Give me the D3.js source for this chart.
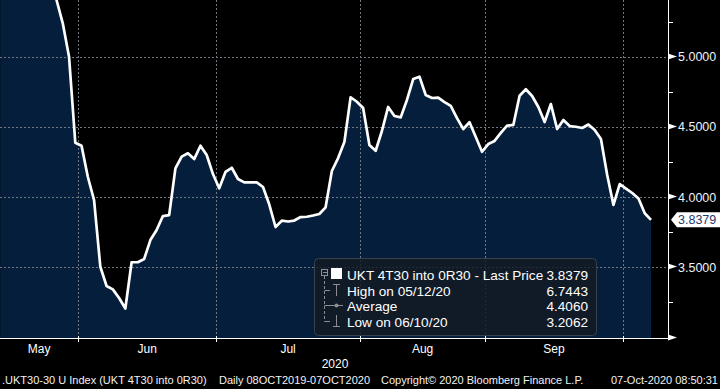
<!DOCTYPE html>
<html>
<head>
<meta charset="utf-8">
<script src="https://cdn.jsdelivr.net/npm/d3@7"></script>
<style>
  html, body { margin: 0; padding: 0; background: #000; }
  svg { display: block; font-family: "Liberation Sans", Arial, sans-serif; }
</style>
</head>
<body>
<div id="chart"></div>
<script>
// UKT 4T30 into 0R30 – daily values, one per UK trading day from 12 May 2020 to 07 Oct 2020
// (first points are above the visible range and get clipped)
const values = [
  6.7443, 6.62, 6.49, 6.36, 6.21, 6.04, 5.87, 5.70, 5.55,
  5.404, 5.238, 5.000, 4.387, 4.366, 4.145, 3.979, 3.504, 3.367, 3.343, 3.281,
  3.2062, 3.536, 3.536, 3.559, 3.694, 3.766, 3.865, 3.872, 4.205, 4.288,
  4.312, 4.271, 4.366, 4.300, 4.164, 4.063, 4.179, 4.209, 4.129, 4.105,
  4.105, 4.105, 4.072, 3.947, 3.787, 3.832, 3.826, 3.833, 3.858, 3.860,
  3.869, 3.880, 3.927, 4.186, 4.278, 4.392, 4.711, 4.679, 4.635, 4.371,
  4.330, 4.471, 4.642, 4.578, 4.568, 4.692, 4.841, 4.858, 4.727, 4.706,
  4.708, 4.677, 4.649, 4.563, 4.485, 4.533, 4.428, 4.323, 4.378, 4.400,
  4.457, 4.509, 4.514, 4.722, 4.768, 4.720, 4.642, 4.535, 4.663, 4.485,
  4.549, 4.506, 4.501, 4.492, 4.517, 4.478, 4.414, 4.157, 3.944, 4.093,
  4.061, 4.029, 3.990, 3.885, 3.8379
];

// month axis: label + index of the month's first trading day in `values`
const monthLabels = ["May", "Jun", "Jul", "Aug", "Sep", ""];
const monthFirstIdx = [0, 13, 35, 58, 78, 100];
const yearLabel = "2020";

const yMajor = [3.0, 3.5, 4.0, 4.5, 5.0];
const yMinor = [3.25, 3.75, 4.25, 4.75, 5.25];

const legendRows = [
  ["UKT 4T30 into 0R30 - Last Price", "3.8379"],
  ["High on 05/12/20", "6.7443"],
  ["Average", "4.4060"],
  ["Low on 06/10/20", "3.2062"]
];
const lastPrice = 3.8379;

const footer = [
  [2, ".UKT30-30 U Index (UKT 4T30 into 0R30)"],
  [219, "Daily 08OCT2019-07OCT2020"],
  [381, "Copyright\u00A9 2020 Bloomberg Finance L.P."],
  [718, "07-Oct-2020 08:50:31"]
];

// ---------- layout ----------
const W = 720, H = 389;
const plotR = 668, plotB = 338;

const svg = d3.select("#chart").append("svg")
  .attr("width", W).attr("height", H);

svg.append("rect").attr("width", W).attr("height", H).attr("fill", "#000");

const x = d3.scaleLinear().domain([0, 104]).range([0.2, 651.0]);
const y = d3.scaleLinear().domain([3, 5]).range([337.5, 56.7]);

svg.append("clipPath").attr("id", "plotClip")
  .append("rect").attr("x", 0).attr("y", 0).attr("width", plotR).attr("height", plotB);

const plot = svg.append("g").attr("clip-path", "url(#plotClip)");

// area under the line
plot.append("path")
  .datum(values)
  .attr("fill", "#041e3b")
  .attr("d", d3.area().x((d, i) => x(i)).y0(plotB).y1(d => y(d)));

// grid
const gridColor = "#6f7780";
plot.selectAll("line.hgrid")
  .data(yMajor.filter(v => v > 3))
  .join("line")
  .attr("class", "hgrid")
  .attr("x1", 0).attr("x2", plotR)
  .attr("y1", d => Math.round(y(d)) + 0.5).attr("y2", d => Math.round(y(d)) + 0.5)
  .attr("stroke", gridColor).attr("stroke-dasharray", "2,2");

const bounds = monthFirstIdx.slice(1).map(i => x(i - 0.5));
plot.selectAll("line.vgrid")
  .data(bounds)
  .join("line")
  .attr("class", "vgrid")
  .attr("x1", d => Math.round(d) + 0.5).attr("x2", d => Math.round(d) + 0.5)
  .attr("y1", 0).attr("y2", plotB)
  .attr("stroke", gridColor).attr("stroke-dasharray", "2,2");

// line
plot.append("path")
  .datum(values)
  .attr("fill", "none")
  .attr("stroke", "#fff")
  .attr("stroke-width", 2.7)
  .attr("stroke-linejoin", "round")
  .attr("d", d3.line().x((d, i) => x(i)).y(d => y(d)));

// ---------- legend ----------
const lg = svg.append("g");
lg.append("rect")
  .attr("x", 314.5).attr("y", 258.5).attr("width", 282).attr("height", 77)
  .attr("rx", 4)
  .attr("fill", "#151b23").attr("fill-opacity", 0.82)
  .attr("stroke", "#39424c");

const rowBase = [280, 296, 311, 327];
const iconCol = "#8b8f94";

// tree
lg.append("rect").attr("x", 321.5).attr("y", 269.5).attr("width", 6).attr("height", 6)
  .attr("fill", "none").attr("stroke", iconCol);
lg.append("line").attr("x1", 323).attr("x2", 327).attr("y1", 272.5).attr("y2", 272.5).attr("stroke", iconCol);
lg.append("line").attr("x1", 324.5).attr("x2", 324.5).attr("y1", 276).attr("y2", 321.5)
  .attr("stroke", iconCol).attr("stroke-dasharray", "3,2");
lg.selectAll("line.stub").data(rowBase.slice(1)).join("line")
  .attr("class", "stub")
  .attr("x1", 324.5).attr("x2", 330).attr("y1", d => d - 5.5).attr("y2", d => d - 5.5)
  .attr("stroke", iconCol);

lg.append("rect").attr("x", 331).attr("y", 268).attr("width", 11).attr("height", 11).attr("fill", "#fff");
// high icon
lg.append("path").attr("d", "M333,284.5H340M336.5,284.5V296").attr("stroke", iconCol).attr("fill", "none");
// average icon
lg.append("line").attr("x1", 330).attr("x2", 343).attr("y1", 305.5).attr("y2", 305.5).attr("stroke", iconCol);
lg.append("circle").attr("cx", 336.5).attr("cy", 305.5).attr("r", 2).attr("fill", iconCol);
// low icon
lg.append("path").attr("d", "M336.5,315V326.5M333,326.5H340").attr("stroke", iconCol).attr("fill", "none");

lg.selectAll("text.lname").data(legendRows).join("text")
  .attr("class", "lname")
  .attr("x", 347).attr("y", (d, i) => rowBase[i])
  .attr("fill", "#fff").attr("font-size", 13.6)
  .text(d => d[0]);
lg.selectAll("text.lval").data(legendRows).join("text")
  .attr("class", "lval")
  .attr("x", 588).attr("y", (d, i) => rowBase[i])
  .attr("text-anchor", "end")
  .attr("fill", "#fff").attr("font-size", 13.6)
  .text(d => d[1]);

// ---------- axes ----------
// bottom axis line
svg.append("line").attr("x1", 0).attr("x2", plotR + 0.5).attr("y1", plotB + 0.5).attr("y2", plotB + 0.5)
  .attr("stroke", "#fff");
svg.selectAll("line.xtick").data(bounds).join("line")
  .attr("class", "xtick")
  .attr("x1", d => Math.round(d) + 0.5).attr("x2", d => Math.round(d) + 0.5)
  .attr("y1", plotB - 2).attr("y2", plotB + 4)
  .attr("stroke", "#fff");

const edges = [0, ...bounds];
svg.selectAll("text.month").data(monthLabels.slice(0, 5)).join("text")
  .attr("class", "month")
  .attr("x", (d, i) => (edges[i] + edges[i + 1]) / 2)
  .attr("y", 353)
  .attr("text-anchor", "middle")
  .attr("fill", "#fff").attr("font-size", 12)
  .text(d => d);

svg.append("text")
  .attr("x", plotR / 2 + 1).attr("y", 368)
  .attr("text-anchor", "middle")
  .attr("fill", "#fff").attr("font-size", 12)
  .text(yearLabel);

// right axis
svg.append("line").attr("x1", plotR + 0.5).attr("x2", plotR + 0.5).attr("y1", 0).attr("y2", plotB + 1)
  .attr("stroke", "#fff");

svg.selectAll("line.minor").data(yMinor).join("line")
  .attr("class", "minor")
  .attr("x1", plotR).attr("x2", plotR + 5)
  .attr("y1", d => Math.round(y(d)) + 0.5).attr("y2", d => Math.round(y(d)) + 0.5)
  .attr("stroke", "#fff");

svg.selectAll("path.major").data(yMajor).join("path")
  .attr("class", "major")
  .attr("d", d => {
    const yy = Math.round(y(d)) - 0.5;
    return `M${plotR},${yy - 3}L${plotR + 9},${yy}L${plotR},${yy + 3}Z`;
  })
  .attr("fill", "#fff");

svg.selectAll("text.ylab").data(yMajor.filter(v => v > 3)).join("text")
  .attr("class", "ylab")
  .attr("x", 678).attr("y", d => y(d) + 4.5)
  .attr("fill", "#eef3fb").attr("font-size", 12.5)
  .text(d => d.toFixed(4));

// last price tag
const ly = y(lastPrice);
svg.append("path")
  .attr("d", `M671,${ly}L677,${ly - 7.5}L720,${ly - 7.5}L720,${ly + 7.5}L677,${ly + 7.5}Z`)
  .attr("fill", "#fff");
svg.append("text")
  .attr("x", 678).attr("y", ly + 4.5)
  .attr("fill", "#1d3a6e").attr("font-size", 12.5)
  .text(lastPrice.toFixed(4));

// footer
svg.selectAll("text.foot").data(footer).join("text")
  .attr("class", "foot")
  .attr("x", d => d[0]).attr("y", 384)
  .attr("text-anchor", (d, i) => i === footer.length - 1 ? "end" : "start")
  .attr("fill", "#f2f2f2").attr("font-size", 11)
  .text(d => d[1]);
</script>
</body>
</html>
